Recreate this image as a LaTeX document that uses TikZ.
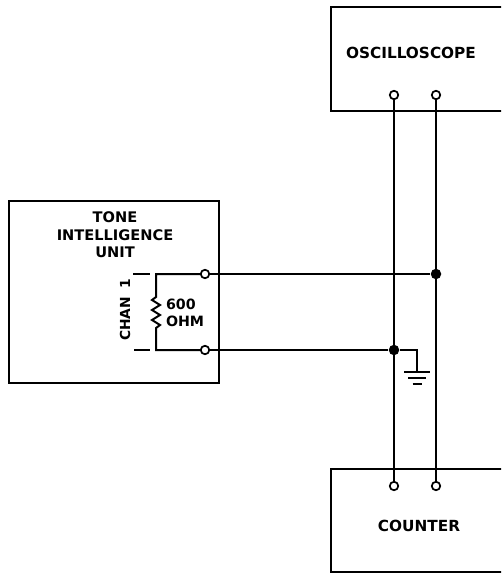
\documentclass[tikz,border=0pt]{standalone}
\usepackage{fontspec}
\setmainfont{DejaVu Sans}
\begin{document}
\begin{tikzpicture}[x=1pt,y=-1pt, line width=2pt,
  box/.style={draw, rectangle, inner sep=0, anchor=north west},
  term/.style={circle, draw, fill=white, line width=1.7pt, minimum size=8.5pt, inner sep=0},
  dot/.style={circle, fill, minimum size=10.5pt, inner sep=0},
  biglbl/.style={font=\bfseries\fontsize{15.3}{17}\selectfont, align=center, inner sep=0},
  smllbl/.style={font=\bfseries\fontsize{14.6}{17.5}\selectfont, align=center, inner sep=0}]
\useasboundingbox (0,0) rectangle (501,575);
\clip (0,0) rectangle (501,575);
% boxes
\node[box, minimum width=180pt, minimum height=104pt] (osc) at (330,6) {};
\node[box, minimum width=180pt, minimum height=103pt] (cnt) at (330,468) {};
\node[box, minimum width=210pt, minimum height=182pt] (tiu) at (8,200) {};
% labels
\node[biglbl] (osclbl) at (411,53) {OSCILLOSCOPE};
\node[biglbl] (cntlbl) at (419,526) {COUNTER};
\node[smllbl] (tiulbl) at (115,235) {TONE\\INTELLIGENCE\\UNIT};
\node[smllbl, font=\bfseries\fontsize{13.8}{16}\selectfont, rotate=90] (chan) at (125,310) {CHAN\hspace{8pt}1};
\node[smllbl, font=\bfseries\fontsize{14.2}{17}\selectfont, align=left, anchor=west] (ohm) at (165,313) {600\\OHM};
% terminals and junctions
\node[term] (o1) at (394,95) {};
\node[term] (o2) at (436,95) {};
\node[term] (c1) at (394,486) {};
\node[term] (c2) at (436,486) {};
\node[term] (t1) at (205,274) {};
\node[term] (t2) at (205,350) {};
\node[dot] (j1) at (436,274) {};
\node[dot] (j2) at (394,350) {};
\coordinate (g) at (417,372);
\coordinate (ra) at (156,274);
\coordinate (rb) at (156,350);
% wires
\draw (o1) -- (c1);
\draw (o2) -- (c2);
\draw (t1) -- (j1);
\draw (t2) -- (j2) -| (g);
% resistor
\draw[line join=miter] (t1) -- (ra) -- (156,297) -- (152,300) -- (160,305) -- (152,310) -- (160,315) -- (152,320) -- (160,325) -- (156,328) -- (rb) -- (t2);
% dashes
\draw (133,274) -- (150,274);
\draw (134,350) -- (150,350);
% ground
\draw ([shift={(-13,0)}]g) -- ([shift={(13,0)}]g);
\draw ([shift={(-9,6)}]g) -- ([shift={(9,6)}]g);
\draw ([shift={(-4.5,12)}]g) -- ([shift={(4.5,12)}]g);
\end{tikzpicture}
\end{document}
